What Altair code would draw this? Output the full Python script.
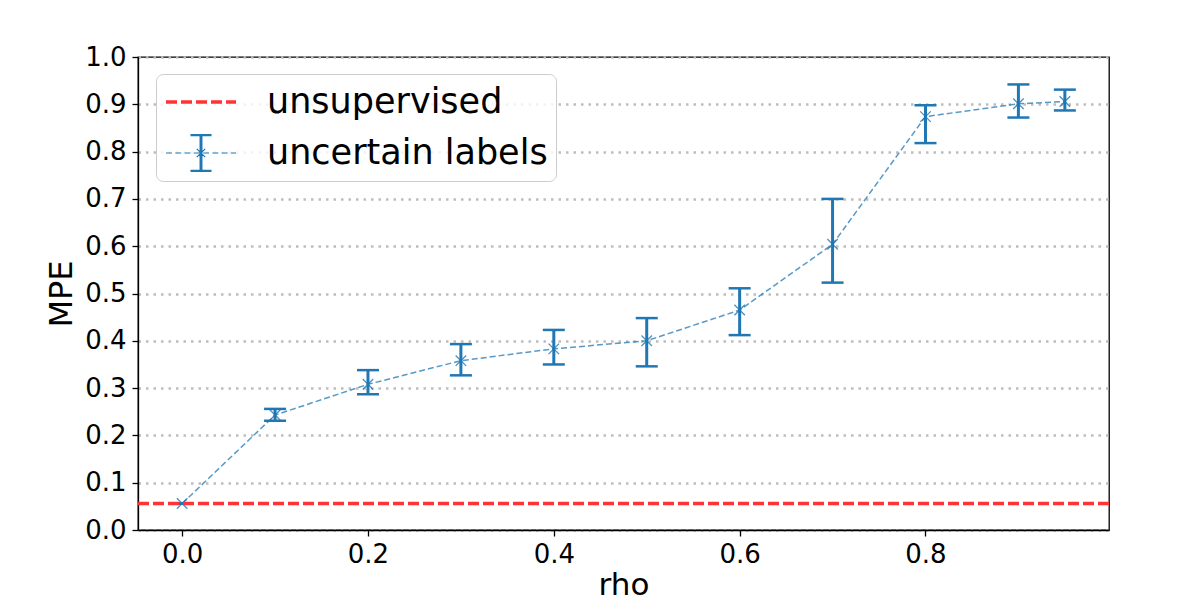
import altair as alt
import pandas as pd

# ---- data ----
rho = [0.0, 0.1, 0.2, 0.3, 0.4, 0.5, 0.6, 0.7, 0.8, 0.9, 0.95]
mpe = [0.056, 0.243, 0.308, 0.358, 0.383, 0.400, 0.465, 0.604, 0.874, 0.901, 0.906]
mpe_lo = [0.056, 0.231, 0.287, 0.327, 0.350, 0.346, 0.412, 0.523, 0.818, 0.872, 0.887]
mpe_hi = [0.056, 0.256, 0.338, 0.393, 0.423, 0.448, 0.511, 0.700, 0.898, 0.942, 0.931]
unsupervised_value = [0.056]
series_names = ["unsupervised", "uncertain labels"]
x_ticks = [0.0, 0.2, 0.4, 0.6, 0.8]
y_ticks = [0.0, 0.1, 0.2, 0.3, 0.4, 0.5, 0.6, 0.7, 0.8, 0.9, 1.0]
x_domain = [-0.0475, 0.9975]
y_domain = [0.0, 1.0]

RED = "#ff3333"
BLUE = "#1f77b4"
FONT = "DejaVu Sans"

df = pd.DataFrame({"rho": rho, "mpe": mpe, "lo": mpe_lo, "hi": mpe_hi,
                   "series": [series_names[1]] * len(rho)})
df_unsup = pd.DataFrame({"mpe": unsupervised_value, "method": [series_names[0]]})

# legend glyph for the error-bar series (unit coordinates of the legend symbol)
blue_dashes = " ".join(
    f"M{s:.3f},0L{min(s + 0.17, 1.0):.3f},0"
    for s in [-1.0, -0.735, -0.47, -0.205, 0.06, 0.325, 0.59, 0.855]
)
blue_bar = " ".join(f"M{x:.3f},-0.51L{x:.3f},0.51" for x in [-0.025, 0.0, 0.025])
blue_caps = " ".join(f"M-0.3,{y:.3f}L0.3,{y:.3f}" for y in [-0.525, -0.495, 0.495, 0.525])
blue_x = "M-0.12,-0.12L0.12,0.12M-0.12,0.12L0.12,-0.12"
blue_glyph = " ".join([blue_dashes, blue_bar, blue_caps, blue_x])

LEG_X, LEG_Y = 18, 17
PAD, CLIP, ROWPAD = 8, 40, 11
common_legend = dict(
    title=None,
    orient="none",
    direction="vertical",
    padding=PAD,
    labelFont=FONT,
    labelFontSize=35,
    labelColor="black",
    labelOffset=29,
    labelLimit=1000,
    symbolSize=4900,
    clipHeight=CLIP,
    rowPadding=ROWPAD,
    symbolOpacity=1,
)

legend_box = alt.Legend(
    legendX=LEG_X, legendY=LEG_Y,
    fillColor="rgba(255,255,255,0.8)",
    strokeColor="#cccccc",
    cornerRadius=7,
    symbolType="M-1,0L1,0",
    symbolDash=[11, 4],
    symbolStrokeWidth=3.5,
    zindex=1,
    **common_legend,
)
legend_err = alt.Legend(
    legendX=LEG_X, legendY=LEG_Y + CLIP + ROWPAD,
    symbolType=blue_glyph,
    symbolStrokeWidth=1.2,
    symbolOffset=1,
    labelOpacity=0,
    zindex=2,
    **common_legend,
)

x_enc = alt.X("rho:Q", title="rho",
              scale=alt.Scale(domain=x_domain, nice=False, zero=False),
              axis=alt.Axis(values=x_ticks, format=".1f", grid=False, labelFlush=False))
y_axis = alt.Axis(values=y_ticks, format=".1f", grid=True)
y_scale = alt.Scale(domain=y_domain, nice=False, zero=False)

base = alt.Chart(df)

line = base.mark_line().encode(
    x=x_enc,
    y=alt.Y("mpe:Q", title="MPE", scale=y_scale, axis=y_axis),
    stroke=alt.Stroke("series:N",
                      scale=alt.Scale(domain=[series_names[1]], range=[BLUE]),
                      legend=legend_err),
    strokeDash=alt.value([6, 3]),
    strokeWidth=alt.value(1.5),
    opacity=alt.value(0.75),
)

err = base.mark_rule(strokeWidth=3, color=BLUE).encode(
    x="rho:Q", y="lo:Q", y2="hi:Q"
)
cap_lo = base.mark_tick(orient="horizontal", size=22, thickness=2.5, color=BLUE, opacity=1).encode(
    x="rho:Q", y="lo:Q"
)
cap_hi = base.mark_tick(orient="horizontal", size=22, thickness=2.5, color=BLUE, opacity=1).encode(
    x="rho:Q", y="hi:Q"
)
markers = base.mark_point(shape="M-1,-1L1,1M-1,1L1,-1", size=110, filled=False,
                          strokeWidth=1.3, color=BLUE, opacity=0.8).encode(
    x="rho:Q", y="mpe:Q"
)

unsup = alt.Chart(df_unsup).mark_rule().encode(
    y="mpe:Q",
    color=alt.Color("method:N",
                    scale=alt.Scale(domain=series_names, range=[RED, "transparent"]),
                    legend=legend_box),
    strokeDash=alt.value([11, 4]),
    strokeWidth=alt.value(3.5),
)

chart = alt.layer(line, err, cap_lo, cap_hi, markers, unsup).properties(
    width=971,
    height=473,
    autosize=alt.AutoSizeParams(type="none"),
    padding={"left": 130, "top": 49, "right": 79, "bottom": 70},
).configure(
    font=FONT,
).configure_view(
    stroke="black",
    strokeWidth=1.3,
).configure_axis(
    domainColor="black",
    domainWidth=1.3,
    tickColor="black",
    tickWidth=1.3,
    tickSize=6,
    labelFont=FONT,
    labelFontSize=26,
    labelColor="black",
    labelPadding=5,
    titleFont=FONT,
    titleFontWeight="normal",
    titleColor="black",
    gridColor="#bdbdbd",
    gridWidth=2.5,
    gridDash=[2.5, 5],
).configure_axisX(
    titleFontSize=31,
    titlePadding=3,
).configure_axisY(
    titleFontSize=32,
    titlePadding=6,
    labelPadding=6,
)

chart.save("out.html", embed_options={"renderer": "svg", "actions": False})
